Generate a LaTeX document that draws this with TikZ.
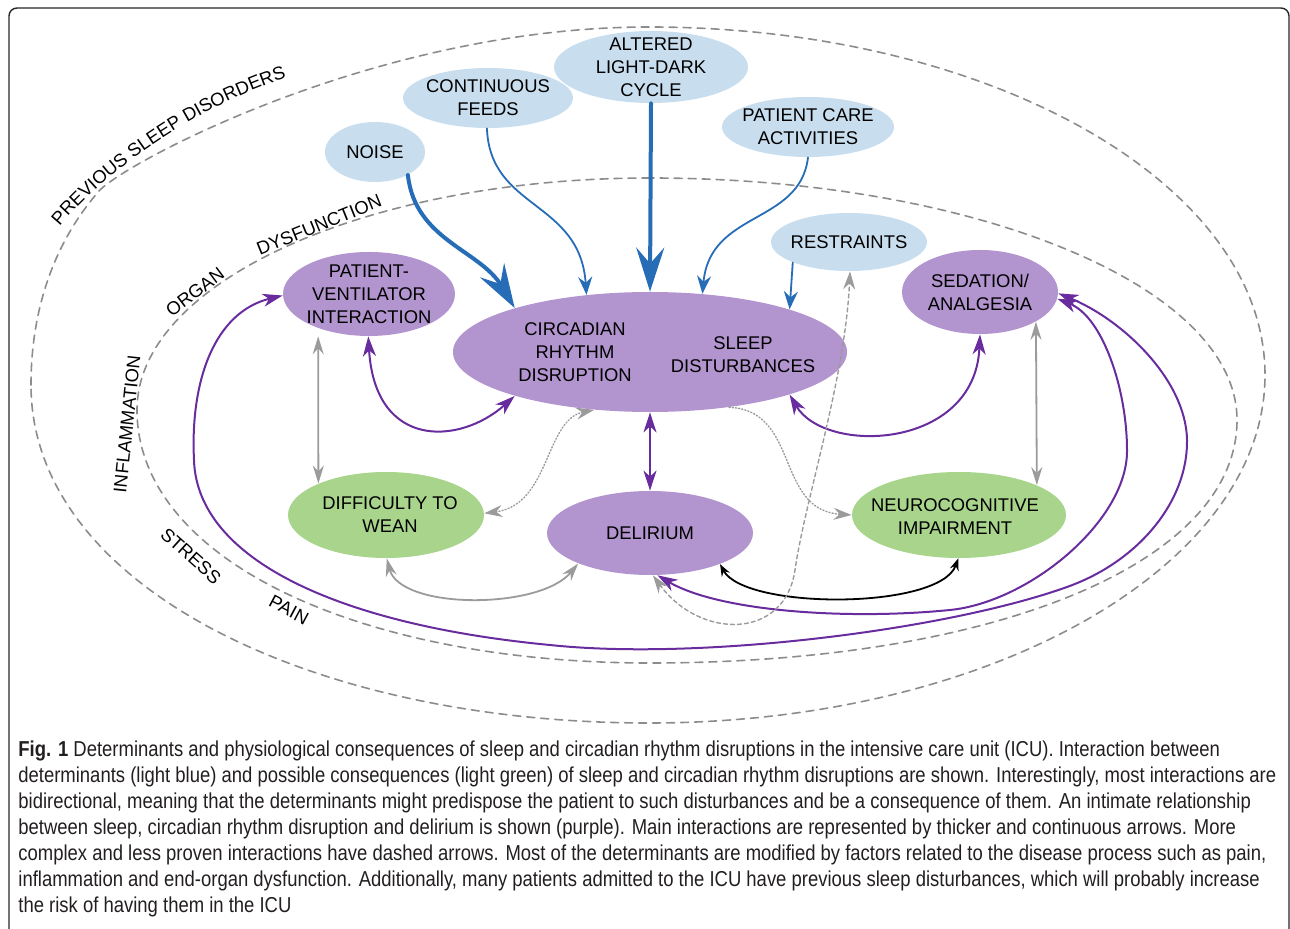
\documentclass[tikz,border=0pt]{standalone}
\usepackage{fontspec}
\setmainfont{Liberation Sans}
\newfontfamily\capfont[FakeStretch=0.855]{Liberation Sans}
\usetikzlibrary{arrows.meta,shapes.geometric,decorations.text}

\definecolor{detblue}{RGB}{200,221,237}
\definecolor{corepurple}{RGB}{178,148,206}
\definecolor{consgreen}{RGB}{168,212,140}
\definecolor{arrblue}{RGB}{38,108,182}
\definecolor{arrpurple}{RGB}{104,44,158}
\definecolor{arrgray}{RGB}{155,155,155}
\definecolor{zonegray}{RGB}{140,140,140}
\definecolor{captext}{RGB}{35,31,32}

\begin{document}
\begin{tikzpicture}[x=0.5pt, y=-0.5pt, line join=round, line cap=round,
	font=\fontsize{9.2}{11.5}\selectfont,
	det/.style={ellipse, inner sep=0pt, fill=detblue},
	core/.style={ellipse, inner sep=0pt, fill=corepurple},
	cons/.style={ellipse, inner sep=0pt, fill=consgreen},
	txt/.style={align=center, inner sep=0pt},
	zone/.style={draw=zonegray, line width=0.8pt, dash pattern=on 4pt off 3pt},
	zonelabel/.style={inner sep=0pt},
	thinblue/.style={draw=arrblue, line width=0.9pt, -{Stealth[length=9pt, width=7pt, inset=3pt]}},
	thickblue/.style={draw=arrblue, line width=2pt, -{Stealth[length=22pt, width=14pt, inset=8pt]}},
	purparrow/.style={draw=arrpurple, line width=1pt, >={Stealth[length=10pt, width=6.5pt, inset=3pt]}},
	grayarrow/.style={draw=arrgray, line width=0.9pt, >={Stealth[length=9pt, width=5.5pt, inset=3pt]}},
	blackarrow/.style={draw=black, line width=0.9pt, >={Stealth[length=6pt, width=4.5pt, inset=2pt]}},
	dotarrow/.style={draw=arrgray, line width=0.7pt, dash pattern=on 0.6pt off 1pt, >={Stealth[length=9pt, width=6pt, inset=3pt]}},
	dasharrow/.style={draw=arrgray, line width=0.7pt, dash pattern=on 2pt off 1.5pt, >={Stealth[length=9pt, width=6pt, inset=3pt]}}]
	\useasboundingbox (0,0) rectangle (1290,929);
	\draw[line width=0.7pt, draw=black!85, rounded corners=4pt] (9,8) rectangle (1289,960);

	% zones
	\draw[zone] (31,385) .. controls (31,300) and (60,235) .. (100,190)
		.. controls (130,160) and (380,27) .. (649,27)
		.. controls (989,27) and (1265,183) .. (1265,375)
		.. controls (1265,567) and (989,723) .. (649,723)
		.. controls (309,723) and (31,585) .. cycle;
	\draw[zone] (650,178) .. controls (367,178) and (137,282) .. (137,410)
		.. controls (137,560) and (360,663) .. (650,663)
		.. controls (990,663) and (1237,565) .. (1237,420)
		.. controls (1237,286) and (974,178) .. cycle;
	\path[decorate, decoration={text along path, text align=center,
		text={|\fontsize{9.2}{11.5}\selectfont|PREVIOUS SLEEP DISORDERS}}]
		(42,250) .. controls (87,180) and (207,95) .. (315,70);
	\node[zonelabel, rotate=37] (organ) at (195,292) {ORGAN};
	\node[zonelabel, rotate=22] (dysf) at (319,225) {DYSFUNCTION};
	\node[zonelabel, rotate=84] (infl) at (127,424) {INFLAMMATION};
	\node[zonelabel, rotate=-42] (stress) at (191,556) {STRESS};
	\node[zonelabel, rotate=-28] (pain) at (289,610) {PAIN};

	% determinants
	\node[det, minimum width=50pt, minimum height=30pt, label={[txt]center:NOISE}] (noise) at (375,152) {};
	\node[det, minimum width=85pt, minimum height=30pt, label={[txt]center:CONTINUOUS\\FEEDS}] (feeds) at (488,98) {};
	\node[det, minimum width=97pt, minimum height=36pt, label={[txt]center:ALTERED\\LIGHT-DARK\\CYCLE}] (light) at (651,67) {};
	\node[det, minimum width=86pt, minimum height=30pt, label={[txt]center:PATIENT CARE\\ACTIVITIES}] (care) at (808,127) {};
	\node[det, minimum width=78pt, minimum height=29pt, label={[txt]center:RESTRAINTS}] (restr) at (849,242) {};

	% sleep and circadian core
	\node[core, minimum width=197pt, minimum height=60pt,
		label={[txt, xshift=-37.5pt]center:CIRCADIAN\\RHYTHM\\DISRUPTION},
		label={[txt, xshift=46.5pt, yshift=-1.25pt]center:SLEEP\\DISTURBANCES}] (main) at (650,352) {};
	\node[core, minimum width=86pt, minimum height=42pt, label={[txt]center:PATIENT-\\VENTILATOR\\INTERACTION}] (pvi) at (369,294) {};
	\node[core, minimum width=78pt, minimum height=42pt, label={[txt]center:SEDATION/\\ANALGESIA}] (sed) at (980,292) {};
	\node[core, minimum width=103pt, minimum height=42pt, label={[txt]center:DELIRIUM}] (delir) at (650,533) {};

	% consequences
	\node[cons, minimum width=98pt, minimum height=43pt, label={[txt, xshift=2pt]center:DIFFICULTY TO\\WEAN}] (wean) at (386,515) {};
	\node[cons, minimum width=107pt, minimum height=43pt, label={[txt, xshift=-2pt, yshift=-1pt]center:NEUROCOGNITIVE\\IMPAIRMENT}] (neuro) at (959,515) {};

	\draw[thickblue] (noise.-35) .. controls (415,240) and (480,250) .. (main.162);
	\draw[thinblue] (feeds.-92) .. controls (490,210) and (580,200) .. (main.138);
	\draw[thickblue] (light.south) -- (main.north);
	\draw[thinblue] (care.south) .. controls (800,225) and (710,210) .. (main.48);
	\draw[thinblue] (restr.-160) -- (main.17);

	\draw[purparrow, <->] (pvi.-91) .. controls (375,450) and (460,445) .. (main.-162);
	\draw[purparrow, <->] (main.-17) .. controls (825,455) and (975,450) .. (sed.south);
	\draw[purparrow, <->] (main.south) -- (delir.north);
	\draw[purparrow, <->] (pvi.-179) .. controls (215,312) and (190,380) .. (194,460)
		.. controls (197,560) and (340,625) .. (550,645)
		.. controls (700,661) and (947,630) .. (1067,587)
		.. controls (1140,561) and (1188,500) .. (1187,440)
		.. controls (1186,380) and (1123,320) .. (sed.-1);
	\draw[purparrow, <->] (delir.-80) .. controls (720,612) and (850,620) .. (950,610)
		.. controls (1030,602) and (1128,520) .. (1127,450)
		.. controls (1127,390) and (1103,317) .. (sed.-5);

	\draw[grayarrow, <->, shorten <=4pt] (pvi.-146) -- (wean.155);
	\draw[grayarrow, <->] (sed.-28) -- (neuro.21);
	\draw[grayarrow, <->] (wean.-89) .. controls (400,610) and (540,610) .. (delir.-157);
	\draw[blackarrow, <->] (delir.-24) .. controls (745,610) and (940,610) .. (neuro.-91);
	\draw[dotarrow, <->] (main.-134) .. controls (545,420) and (550,505) .. (wean.1);
	\draw[dotarrow, ->] (main.-35) .. controls (800,410) and (775,510) .. (neuro.west);
	\draw[dasharrow, <->] (delir.-86) .. controls (700,640) and (785,640) .. (795,570)
		.. controls (805,500) and (845,380) .. (restr.-88);

	\node[anchor=north west, align=left, inner sep=0pt, text=captext, font=\capfont\fontsize{10.8}{13}\selectfont] (caption) at (18,740)
	{\textbf{Fig. 1} Determinants and physiological consequences of sleep and circadian rhythm disruptions in the intensive care unit (ICU). Interaction between\\
	determinants (light blue) and possible consequences (light green) of sleep and circadian rhythm disruptions are shown. Interestingly, most interactions are\\
	bidirectional, meaning that the determinants might predispose the patient to such disturbances and be a consequence of them. An intimate relationship\\
	between sleep, circadian rhythm disruption and delirium is shown (purple). Main interactions are represented by thicker and continuous arrows. More\\
	complex and less proven interactions have dashed arrows. Most of the determinants are modified by factors related to the disease process such as pain,\\
	inflammation and end-organ dysfunction. Additionally, many patients admitted to the ICU have previous sleep disturbances, which will probably increase\\
	the risk of having them in the ICU};
\end{tikzpicture}
\end{document}
